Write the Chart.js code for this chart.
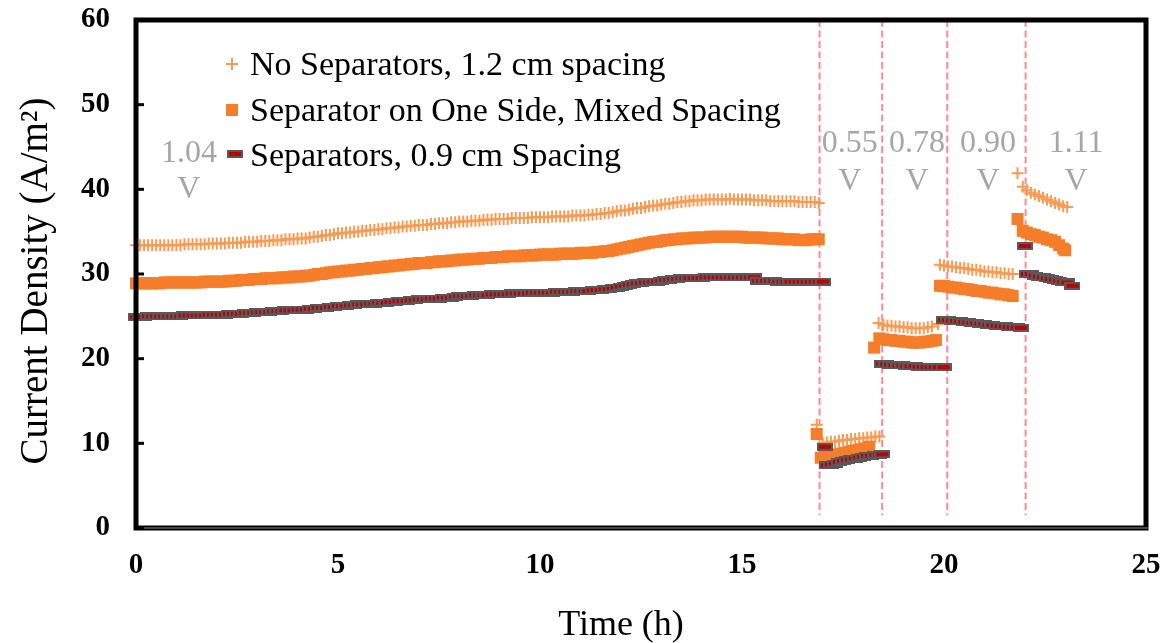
<!DOCTYPE html>
<html><head><meta charset="utf-8">
<script src="https://cdn.jsdelivr.net/npm/chart.js@4.4.0/dist/chart.umd.min.js"></script>
<style>html,body{margin:0;padding:0;background:#fff;}#wrap{width:1168px;height:643px;position:relative;}</style>
</head><body><div id="wrap"><canvas id="c"></canvas></div>
<script>
// ---------- DATA ----------
const seriesNames = ['No Separators, 1.2 cm spacing', 'Separator on One Side, Mixed Spacing', 'Separators, 0.9 cm Spacing'];

// shared time grid of the first (1.04 V) period, hours
const hoursMain = [
0.0,0.1,0.2,0.3,0.4,0.5,0.6,0.7,0.8,0.9,
1.0,1.1,1.2,1.3,1.4,1.5,1.6,1.7,1.8,1.9,
2.0,2.1,2.2,2.3,2.4,2.5,2.6,2.7,2.8,2.9,
3.0,3.1,3.2,3.3,3.4,3.5,3.6,3.7,3.8,3.9,
4.0,4.1,4.2,4.3,4.4,4.5,4.6,4.7,4.8,4.9,
5.0,5.1,5.2,5.3,5.4,5.5,5.6,5.7,5.8,5.9,
6.0,6.1,6.2,6.3,6.4,6.5,6.6,6.7,6.8,6.9,
7.0,7.1,7.2,7.3,7.4,7.5,7.6,7.7,7.8,7.9,
8.0,8.1,8.2,8.3,8.4,8.5,8.6,8.7,8.8,8.9,
9.0,9.1,9.2,9.3,9.4,9.5,9.6,9.7,9.8,9.9,
10.0,10.1,10.2,10.3,10.4,10.5,10.6,10.7,10.8,10.9,
11.0,11.1,11.2,11.3,11.4,11.5,11.6,11.7,11.8,11.9,
12.0,12.1,12.2,12.3,12.4,12.5,12.6,12.7,12.8,12.9,
13.0,13.1,13.2,13.3,13.4,13.5,13.6,13.7,13.8,13.9,
14.0,14.1,14.2,14.3,14.4,14.5,14.6,14.7,14.8,14.9,
15.0,15.1,15.2,15.3,15.4,15.5,15.6,15.7,15.8,15.9,
16.0,16.1,16.2,16.3,16.4,16.5,16.6,16.7,16.8,16.9];

const noSepMain = [
33.4,33.4,33.4,33.4,33.4,33.4,33.4,33.4,33.4,33.4,
33.4,33.4,33.5,33.5,33.5,33.5,33.5,33.5,33.6,33.6,
33.6,33.6,33.6,33.7,33.7,33.7,33.7,33.8,33.8,33.8,
33.8,33.9,33.9,33.9,34.0,34.0,34.0,34.1,34.1,34.1,
34.2,34.2,34.2,34.3,34.4,34.4,34.5,34.6,34.6,34.7,
34.8,34.8,34.9,34.9,35.0,35.0,35.1,35.1,35.2,35.2,
35.3,35.3,35.4,35.4,35.5,35.5,35.6,35.6,35.7,35.7,
35.8,35.8,35.8,35.9,35.9,36.0,36.0,36.0,36.1,36.1,
36.2,36.2,36.2,36.3,36.3,36.3,36.4,36.4,36.4,36.5,
36.5,36.5,36.5,36.6,36.6,36.6,36.6,36.6,36.7,36.7,
36.7,36.7,36.7,36.8,36.8,36.8,36.8,36.8,36.9,36.9,
36.9,36.9,37.0,37.0,37.1,37.1,37.2,37.2,37.3,37.4,
37.5,37.5,37.6,37.7,37.8,37.8,37.9,38.0,38.1,38.1,
38.2,38.3,38.3,38.4,38.5,38.5,38.6,38.6,38.7,38.7,
38.7,38.8,38.8,38.8,38.8,38.8,38.8,38.9,38.8,38.8,
38.8,38.8,38.8,38.7,38.7,38.7,38.7,38.6,38.6,38.6,
38.6,38.6,38.6,38.6,38.5,38.5,38.5,38.5,38.5,38.4];

const oneSideMain = [
28.9,28.9,28.9,28.9,28.9,28.9,28.9,29.0,29.0,29.0,
29.0,29.0,29.0,29.0,29.0,29.0,29.0,29.1,29.1,29.1,
29.1,29.1,29.1,29.2,29.2,29.2,29.3,29.3,29.3,29.4,
29.4,29.4,29.5,29.5,29.5,29.5,29.6,29.6,29.6,29.7,
29.7,29.7,29.8,29.8,29.9,30.0,30.0,30.1,30.2,30.2,
30.3,30.3,30.4,30.4,30.5,30.5,30.6,30.6,30.7,30.7,
30.8,30.8,30.9,30.9,31.0,31.0,31.1,31.1,31.2,31.2,
31.3,31.3,31.3,31.4,31.4,31.5,31.5,31.5,31.6,31.6,
31.7,31.7,31.7,31.8,31.8,31.8,31.9,31.9,31.9,32.0,
32.0,32.0,32.1,32.1,32.1,32.1,32.2,32.2,32.2,32.2,
32.3,32.3,32.3,32.3,32.3,32.4,32.4,32.4,32.4,32.4,
32.5,32.5,32.5,32.5,32.6,32.6,32.7,32.7,32.8,32.9,
33.0,33.1,33.2,33.3,33.4,33.5,33.6,33.7,33.8,33.8,
33.9,34.0,34.0,34.1,34.1,34.2,34.2,34.2,34.3,34.3,
34.3,34.3,34.4,34.4,34.4,34.4,34.4,34.4,34.4,34.4,
34.4,34.3,34.3,34.3,34.3,34.3,34.2,34.2,34.2,34.2,
34.1,34.1,34.1,34.1,34.0,34.0,34.0,34.1,34.1,34.1];

const twoSideMain = [
24.9,24.9,24.9,25.0,25.0,25.0,25.0,25.0,25.0,25.0,
25.0,25.0,25.1,25.1,25.1,25.1,25.1,25.1,25.2,25.2,
25.2,25.2,25.2,25.3,25.3,25.3,25.3,25.4,25.4,25.4,
25.5,25.5,25.5,25.5,25.6,25.6,25.6,25.7,25.7,25.7,
25.8,25.8,25.8,25.9,25.9,26.0,26.0,26.0,26.1,26.1,
26.2,26.2,26.2,26.3,26.3,26.4,26.4,26.4,26.5,26.5,
26.6,26.6,26.6,26.7,26.7,26.8,26.8,26.8,26.9,26.9,
27.0,27.0,27.0,27.1,27.1,27.1,27.2,27.2,27.2,27.3,
27.4,27.4,27.4,27.4,27.5,27.5,27.5,27.5,27.6,27.6,
27.6,27.6,27.6,27.7,27.7,27.7,27.7,27.7,27.8,27.8,
27.8,27.8,27.8,27.8,27.9,27.9,27.9,27.9,27.9,28.0,
28.0,28.0,28.0,28.1,28.1,28.1,28.2,28.2,28.3,28.4,
28.5,28.6,28.7,28.8,28.9,28.9,29.0,29.0,29.1,29.1,
29.2,29.3,29.3,29.4,29.4,29.5,29.5,29.5,29.5,29.5,
29.5,29.6,29.6,29.6,29.6,29.6,29.6,29.6,29.6,29.6,
29.6,29.6,29.6,29.6,29.2,29.2,29.2,29.2,29.2,29.1,
29.1,29.1,29.1,29.1,29.1,29.1,29.1,29.1,29.1,29.1];

// later periods (0.55, 0.78, 0.90, 1.11 V), per series
const noSepLateHours = [
16.85,17.0,17.1,17.2,17.3,17.4,17.5,17.6,17.7,17.8,17.9,18.0,18.1,18.2,18.3,18.4,
18.38,18.5,18.6,18.7,18.8,18.9,19.0,19.1,19.2,19.3,19.4,19.5,19.6,19.7,19.85,
19.9,20.0,20.1,20.2,20.3,20.4,20.5,20.6,20.7,20.8,20.9,21.0,21.1,21.2,21.3,21.4,21.5,21.6,21.7,
21.82,21.95,22.05,22.15,22.25,22.35,22.45,22.55,22.65,22.75,22.85,22.95,23.05];
const noSepLate = [
12.2,10.0,10.1,10.2,10.2,10.3,10.4,10.4,10.5,10.5,10.6,10.6,10.7,10.7,10.8,10.8,
24.2,24.0,23.9,23.9,23.8,23.8,23.7,23.7,23.6,23.6,23.6,23.6,23.7,23.8,24.1,
31.1,31.0,30.9,30.9,30.8,30.7,30.7,30.6,30.5,30.5,30.4,30.3,30.3,30.2,30.2,30.1,30.1,30.0,30.0,
41.9,40.3,39.9,39.6,39.4,39.2,39.0,38.8,38.6,38.4,38.2,38.0,37.9];

const oneSideLateHours = [
16.85,16.95,17.05,17.15,17.25,17.35,17.45,17.55,17.65,17.75,17.85,17.95,18.05,18.15,
18.27,18.4,18.5,18.6,18.7,18.8,18.9,19.0,19.1,19.2,19.3,19.4,19.5,19.6,19.7,19.8,
19.9,20.0,20.1,20.2,20.3,20.4,20.5,20.6,20.7,20.8,20.9,21.0,21.1,21.2,21.3,21.4,21.5,21.6,21.7,
21.82,21.95,22.05,22.15,22.25,22.35,22.45,22.55,22.65,22.75,22.85,22.95,23.0];
const oneSideLate = [
11.1,8.3,8.4,8.5,8.6,8.7,8.8,8.9,9.0,9.1,9.2,9.3,9.4,9.6,
21.3,22.4,22.3,22.2,22.2,22.1,22.1,22.0,22.0,21.9,21.9,21.9,22.0,22.0,22.1,22.2,
28.6,28.6,28.5,28.4,28.4,28.3,28.2,28.2,28.1,28.0,28.0,27.9,27.8,27.8,27.7,27.6,27.6,27.5,27.4,
36.5,35.1,34.9,34.7,34.6,34.4,34.3,34.1,34.0,33.8,33.4,33.0,32.8];

const twoSideLateHours = [
17.0,
17.05,17.1,17.2,17.3,17.4,17.5,17.6,17.7,17.8,17.9,18.0,18.1,18.2,18.3,18.4,18.47,
18.47,18.57,18.67,18.77,18.87,18.97,19.07,19.17,19.27,19.37,19.47,19.57,19.67,19.77,19.87,19.99,
20.0,20.1,20.2,20.3,20.4,20.5,20.6,20.7,20.8,20.9,21.0,21.1,21.2,21.3,21.4,21.5,21.6,21.7,21.8,21.9,
22.0,22.05,22.15,22.25,22.35,22.45,22.55,22.65,22.75,22.85,22.95,23.05,23.18];
const twoSideLate = [
29.1,
9.6,7.4,7.5,7.6,7.8,7.9,8.0,8.1,8.2,8.3,8.4,8.5,8.55,8.6,8.65,8.7,
19.4,19.35,19.3,19.25,19.2,19.2,19.15,19.1,19.1,19.05,19.05,19.0,19.0,19.0,19.0,19.0,
24.6,24.55,24.5,24.45,24.4,24.35,24.3,24.25,24.2,24.15,24.1,24.0,23.95,23.9,23.85,23.8,23.75,23.7,23.7,23.65,
33.3,30.0,30.0,29.8,29.7,29.6,29.5,29.4,29.3,29.2,29.1,29.0,28.6];

// voltage switch times (h) and cell voltage labels
const switchHours = [16.92, 18.47, 20.08, 22.02];
const voltageLabels = ['1.04', '0.55', '0.78', '0.90', '1.11'];
const xTicks = [0, 5, 10, 15, 20, 25];
const yTicks = [0, 10, 20, 30, 40, 50, 60];

// ---------- LAYOUT / STYLE (not data) ----------
const voltageLabelX = [1.31, 17.67, 19.33, 21.09, 23.27];
const voltageLabelY = [43.2, 44.4, 44.4, 44.4, 44.4];
const voltageUnitY  = [39.0, 39.9, 39.9, 39.9, 39.9];
const FONT = "'Liberation Serif','Times New Roman',serif";
const C_PLUS = '#F99B52', C_SQ = '#F67E2A', C_GRAY = '#595959', C_RED = '#C00000';

function pts(xs, ys){ return xs.map((x,i)=>({x:x, y:ys[i]})); }

function makeDash(){
  const c = document.createElement('canvas'); c.width = 16; c.height = 8;
  const g = c.getContext('2d');
  g.fillStyle = C_GRAY; g.fillRect(0,0,16,8);
  g.fillStyle = C_RED; g.fillRect(2,2,12,4);
  return c;
}
const dashImg = makeDash();

const datasets = [
  { label: seriesNames[0], data: pts(hoursMain, noSepMain).concat(pts(noSepLateHours, noSepLate)),
    pointStyle: 'cross', pointRadius: 6, borderColor: C_PLUS, backgroundColor: C_PLUS, pointBorderWidth: 2, showLine: false, order: 3, clip: false },
  { label: seriesNames[1], data: pts(hoursMain, oneSideMain).concat(pts(oneSideLateHours, oneSideLate)),
    pointStyle: 'rect', pointRadius: 8.5, borderColor: C_SQ, backgroundColor: C_SQ, pointBorderWidth: 0, showLine: false, order: 2, clip: false },
  { label: seriesNames[2], data: pts(hoursMain, twoSideMain).concat(pts(twoSideLateHours, twoSideLate)),
    pointStyle: dashImg, pointRadius: 8, borderColor: C_GRAY, backgroundColor: C_RED, showLine: false, order: 1, clip: false }
];
switchHours.forEach(h => datasets.push({
  label: '_switch', data: [{x:h, y:60}, {x:h, y:1.5}], showLine: true, pointRadius: 0,
  borderColor: 'rgba(255,110,115,0.8)', borderWidth: 2, borderDash: [7,3.5], order: 10
}));

const decor = {
  id: 'decor',
  afterDatasetsDraw(chart){
    const {ctx, chartArea: a, scales: {x, y}} = chart;
    ctx.save();
    // frame
    ctx.strokeStyle = '#000'; ctx.lineWidth = 5;
    ctx.strokeRect(a.left, a.top, a.right-a.left, a.bottom-a.top);
    ctx.strokeStyle = '#8a8a8a'; ctx.lineWidth = 1.2;
    ctx.beginPath(); ctx.moveTo(a.left+2, a.bottom); ctx.lineTo(a.right+2, a.bottom); ctx.stroke();
    // inward y ticks
    ctx.strokeStyle = '#000'; ctx.lineWidth = 3;
    yTicks.forEach(v => { const py = y.getPixelForValue(v); ctx.beginPath(); ctx.moveTo(a.left, py); ctx.lineTo(a.left+8, py); ctx.stroke(); });
    // voltage labels
    ctx.fillStyle = '#A6A6A6'; ctx.font = '32px ' + FONT; ctx.textAlign = 'center'; ctx.textBaseline = 'alphabetic';
    voltageLabels.forEach((t,i) => {
      const px = x.getPixelForValue(voltageLabelX[i]);
      ctx.fillText(t, px, y.getPixelForValue(voltageLabelY[i]));
      ctx.fillText('V', px, y.getPixelForValue(voltageUnitY[i]));
    });
    // legend
    const lx = 232, marks = [64, 110, 154], bases = [75, 120.5, 165.5];
    ctx.strokeStyle = C_PLUS; ctx.lineWidth = 2;
    ctx.beginPath(); ctx.moveTo(lx-6, marks[0]); ctx.lineTo(lx+6, marks[0]); ctx.moveTo(lx, marks[0]-6); ctx.lineTo(lx, marks[0]+6); ctx.stroke();
    ctx.fillStyle = C_SQ; ctx.fillRect(lx-6, marks[1]-6, 12, 12);
    ctx.drawImage(dashImg, lx-5, marks[2]-4);
    ctx.fillStyle = '#000'; ctx.textAlign = 'left'; ctx.font = '34px ' + FONT;
    seriesNames.forEach((n,i) => ctx.fillText(n, 250, bases[i]));
    // axis titles
    ctx.textAlign = 'center';
    ctx.font = '36px ' + FONT;
    ctx.fillText('Time (h)', 621, 635);
    ctx.font = '39px ' + FONT;
    ctx.translate(47, 281); ctx.rotate(-Math.PI/2);
    ctx.fillText('Current Density (A/m²)', 0, 0);
    ctx.restore();
  }
};

new Chart(document.getElementById('c'), {
  type: 'scatter',
  data: { datasets },
  plugins: [decor],
  options: {
    responsive: true, maintainAspectRatio: false, animation: false, events: [],
    layout: { padding: { top: 20, right: 22, left: 0, bottom: 0 } },
    plugins: { legend: { display: false }, tooltip: { enabled: false } },
    scales: {
      x: { type: 'linear', min: 0, max: 25,
        afterBuildTicks: s => { s.ticks = xTicks.map(v => ({value: v})); },
        afterFit: s => { s.height = 115; s.paddingLeft = 0; s.paddingRight = 0; },
        grid: { display: false, drawTicks: false, tickLength: 0 }, border: { display: false },
        ticks: { color: '#000', padding: 20, font: { family: FONT, size: 29, weight: 'bold' } } },
      y: { type: 'linear', min: 0, max: 60,
        afterBuildTicks: s => { s.ticks = yTicks.map(v => ({value: v})); },
        afterFit: s => { s.width = 136; s.paddingTop = 0; s.paddingBottom = 0; },
        grid: { display: false, drawTicks: false, tickLength: 0 }, border: { display: false },
        ticks: { color: '#000', padding: 26, font: { family: FONT, size: 29, weight: 'bold' } } }
    }
  }
});
</script></body></html>
